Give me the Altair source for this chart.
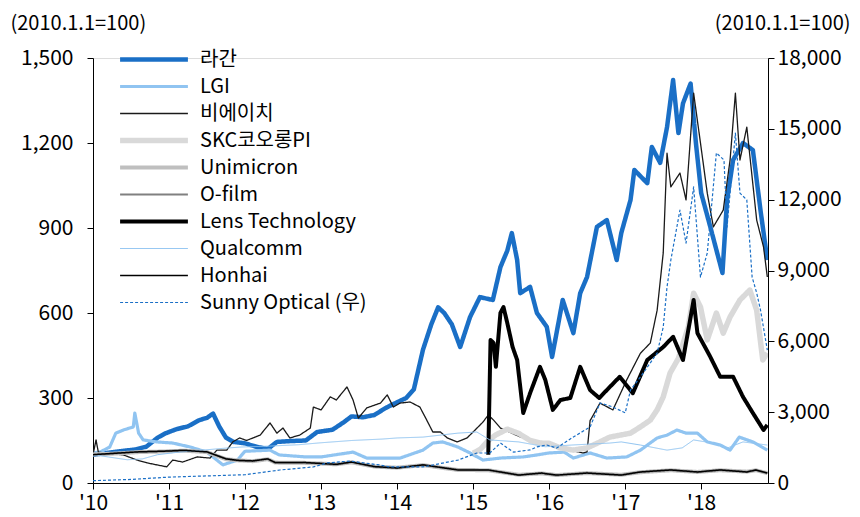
import altair as alt
import pandas as pd

SERIES = ["라간", "LGI", "비에이치", "SKC코오롱PI", "Unimicron", "O-film",
          "Lens Technology", "Qualcomm", "Honhai", "Sunny Optical (우)"]
COLORS = ["#1a6fc6", "#90c4f1", "#1a1a1a", "#d9d9d9", "#bfbfbf", "#808080",
          "#000000", "#90c4f1", "#000000", "#1a6fc6"]
WIDTHS = [4.5, 3.2, 1.3, 5.5, 4, 2, 4, 1, 1.5, 1.2]
DASHES = [[1, 0]] * 9 + [[3, 2]]

# ---- values (decimal year, index value) ----
LARGAN_T = [2010.0, 2010.15, 2010.35, 2010.55, 2010.7, 2010.85, 2010.95, 2011.1, 2011.25, 2011.4,
            2011.5, 2011.58, 2011.66, 2011.75, 2011.85, 2012.0, 2012.15, 2012.3, 2012.42, 2012.6,
            2012.8, 2012.95, 2013.15, 2013.3, 2013.4, 2013.55, 2013.7, 2013.85, 2014.0, 2014.12,
            2014.22, 2014.34, 2014.45, 2014.54, 2014.62, 2014.72, 2014.83, 2014.96, 2015.09, 2015.26,
            2015.36, 2015.45, 2015.51, 2015.58, 2015.62, 2015.75, 2015.84, 2015.97, 2016.04, 2016.18,
            2016.32, 2016.41, 2016.5, 2016.63, 2016.76, 2016.89, 2016.95, 2017.07, 2017.12, 2017.29,
            2017.35, 2017.46, 2017.55, 2017.63, 2017.7, 2017.76, 2017.86, 2017.93, 2018.0, 2018.12,
            2018.28, 2018.34, 2018.42, 2018.55, 2018.68, 2018.78, 2018.87]
LARGAN_V = [100, 105, 112, 118, 128, 160, 175, 190, 200, 222,
            230, 245, 200, 160, 145, 140, 128, 120, 145, 148,
            150, 180, 188, 215, 235, 232, 240, 265, 285, 300,
            330, 470, 560, 620, 600, 560, 480, 586, 656, 646,
            762, 820, 882, 787, 670, 692, 600, 551, 445, 646,
            529, 670, 727, 904, 928, 787, 882, 999, 1105, 1058,
            1186, 1130, 1256, 1422, 1235, 1340, 1410, 1200, 1023, 904,
            741, 999, 1140, 1200, 1175, 963, 787]

LGI_T = [2010.0, 2010.1, 2010.22, 2010.3, 2010.4, 2010.53, 2010.55, 2010.6, 2010.66, 2010.84,
         2011.05, 2011.28, 2011.5, 2011.63, 2011.71, 2011.9, 2012.0, 2012.33, 2012.45, 2012.8,
         2013.0, 2013.42, 2013.6, 2013.8, 2014.04, 2014.34, 2014.47, 2014.6, 2014.8, 2014.96,
         2015.13, 2015.36, 2015.66, 2015.84, 2016.0, 2016.2, 2016.32, 2016.54, 2016.76, 2017.02,
         2017.2, 2017.42, 2017.55, 2017.68, 2017.8, 2017.95, 2018.08, 2018.25, 2018.38, 2018.5,
         2018.68, 2018.87]
LGI_V = [106, 110, 127, 176, 187, 198, 247, 176, 152, 145,
         141, 127, 109, 81, 64, 81, 112, 116, 99, 92,
         92, 109, 88, 88, 88, 116, 141, 145, 127, 106,
         81, 88, 92, 99, 106, 109, 88, 106, 88, 92,
         116, 159, 169, 187, 176, 176, 145, 134, 116, 162,
         145, 116]

BH_T = [2010.0, 2010.04, 2010.07, 2010.2, 2010.4, 2010.58, 2010.71, 2010.84, 2010.97, 2011.05,
        2011.18, 2011.37, 2011.54, 2011.63, 2011.76, 2011.84, 2011.93, 2012.02, 2012.2, 2012.33,
        2012.42, 2012.5, 2012.59, 2012.72, 2012.86, 2012.9, 2013.0, 2013.12, 2013.2, 2013.34,
        2013.42, 2013.49, 2013.6, 2013.78, 2013.87, 2013.95, 2014.04, 2014.17, 2014.3, 2014.39,
        2014.47, 2014.57, 2014.66, 2014.79, 2014.92, 2015.0, 2015.13, 2015.2, 2015.27, 2015.36,
        2015.6, 2015.9, 2016.2, 2016.45, 2016.5, 2016.54, 2016.67, 2016.84, 2017.02, 2017.2,
        2017.33, 2017.42, 2017.5, 2017.55, 2017.6, 2017.72, 2017.8, 2017.9, 2017.99, 2018.08,
        2018.16, 2018.29, 2018.38, 2018.45, 2018.51, 2018.6, 2018.73, 2018.82, 2018.87]
BH_V = [100, 152, 109, 105, 99, 81, 71, 64, 57, 81,
        74, 92, 88, 116, 116, 145, 159, 150, 169, 212,
        176, 194, 159, 169, 194, 268, 258, 304, 293, 339,
        293, 229, 265, 282, 311, 268, 282, 286, 268, 222,
        180, 180, 159, 145, 159, 180, 215, 240, 222, 194,
        165, 140, 120, 106, 110, 220, 282, 258, 364, 458,
        494, 610, 812, 1164, 1045, 1094, 999, 1376, 1200, 1023,
        904, 963, 1140, 1376, 1140, 1256, 928, 833, 727]

SKC_T = [2015.0, 2015.1, 2015.2, 2015.3, 2015.45, 2015.6, 2015.75, 2015.88, 2016.0, 2016.15,
         2016.32, 2016.5, 2016.67, 2016.8, 2017.07, 2017.2, 2017.33, 2017.42, 2017.5, 2017.59,
         2017.7, 2017.83, 2017.9, 2017.99, 2018.08, 2018.2, 2018.29, 2018.38, 2018.51, 2018.64,
         2018.73, 2018.81, 2018.87]
SKC_V = [105, 120, 150, 170, 190, 175, 150, 141, 140, 124,
         116, 124, 145, 162, 176, 198, 222, 258, 304, 388,
         440, 551, 670, 621, 505, 600, 529, 586, 646, 681,
         610, 434, 459]

UNIMICRON_T = [2010.0, 2010.3, 2010.6, 2010.9, 2011.2, 2011.5, 2011.6, 2011.75, 2011.9, 2012.1,
               2012.3, 2012.4, 2012.8, 2013.2, 2013.4, 2013.7, 2014.0, 2014.34, 2014.8, 2015.2,
               2015.6, 2015.9, 2016.1, 2016.5, 2016.95, 2017.2, 2017.6, 2017.95, 2018.25, 2018.6,
               2018.72, 2018.87]
UNIMICRON_V = [101, 104, 109, 111, 114, 109, 99, 84, 80, 77,
               84, 72, 71, 66, 73, 58, 54, 63, 46, 45,
               29, 34, 28, 35, 29, 38, 45, 39, 45, 40,
               45, 35]

OFILM_T = UNIMICRON_T
OFILM_V = [99, 105, 110, 112, 116, 110, 100, 86, 79, 78,
           85, 71, 72, 65, 74, 57, 53, 64, 47, 46,
           28, 35, 27, 36, 28, 39, 46, 38, 46, 39,
           46, 34]

LENS_T = [2015.2, 2015.23, 2015.27, 2015.3, 2015.36, 2015.4, 2015.45, 2015.52, 2015.58, 2015.66,
          2015.75, 2015.88, 2015.95, 2016.05, 2016.15, 2016.28, 2016.41, 2016.54, 2016.66, 2016.76,
          2016.93, 2017.1, 2017.29, 2017.5, 2017.63, 2017.76, 2017.9, 2017.95, 2018.05, 2018.12,
          2018.25, 2018.42, 2018.55, 2018.68, 2018.82, 2018.87]
LENS_V = [100, 505, 494, 410, 600, 621, 565, 480, 434, 247,
          317, 410, 364, 258, 293, 300, 410, 328, 300, 328,
          375, 317, 434, 480, 516, 434, 646, 529, 480, 445,
          375, 375, 304, 247, 187, 205]

QCOM_T = [2010.0, 2010.2, 2010.45, 2010.65, 2010.85, 2011.1, 2011.4, 2011.7, 2011.95, 2012.3,
          2012.7, 2013.0, 2013.4, 2013.8, 2014.0, 2014.34, 2014.8, 2015.05, 2015.22, 2015.6,
          2015.95, 2016.3, 2016.8, 2016.95, 2017.2, 2017.55, 2017.75, 2017.9, 2018.15, 2018.35,
          2018.55, 2018.87]
QCOM_V = [100, 92, 82, 85, 100, 108, 115, 122, 127, 130,
          135, 142, 150, 155, 159, 162, 176, 180, 152, 145,
          128, 134, 141, 145, 134, 116, 124, 152, 141, 124,
          145, 134]

HONHAI_T = UNIMICRON_T
HONHAI_V = [100, 105, 110, 112, 115, 110, 100, 85, 80, 78,
            85, 72, 72, 66, 74, 58, 53, 64, 46, 46,
            28, 35, 28, 35, 28, 39, 46, 39, 46, 39,
            46, 35]

SUNNY_T = [2010.0, 2010.5, 2011.0, 2011.5, 2012.0, 2012.46, 2012.9, 2013.08, 2013.38, 2013.78,
           2013.9, 2014.34, 2014.8, 2015.05, 2015.22, 2015.36, 2015.53, 2015.75, 2015.84, 2015.97,
           2016.1, 2016.32, 2016.54, 2016.67, 2016.84, 2017.0, 2017.07, 2017.2, 2017.42, 2017.5,
           2017.55, 2017.6, 2017.72, 2017.8, 2017.9, 2017.99, 2018.08, 2018.2, 2018.3, 2018.34,
           2018.45, 2018.51, 2018.6, 2018.67, 2018.73, 2018.78, 2018.87]
SUNNY_V = [100, 150, 250, 300, 350, 550, 680, 850, 930, 760,
           680, 680, 970, 1270, 1270, 1690, 1310, 1400, 1530, 1610,
           1480, 1950, 2370, 3390, 3220, 2970, 3940, 4490, 5500, 6600,
           8300, 9440, 11560, 10160, 12540, 8720, 9740, 13980, 13680, 10840,
           14820, 12280, 11990, 8720, 8050, 7330, 5630]

LEFT_DATA = [(LARGAN_T, LARGAN_V), (LGI_T, LGI_V), (BH_T, BH_V), (SKC_T, SKC_V),
             (UNIMICRON_T, UNIMICRON_V), (OFILM_T, OFILM_V), (LENS_T, LENS_V),
             (QCOM_T, QCOM_V), (HONHAI_T, HONHAI_V)]

LEFT_TICKS = [0, 300, 600, 900, 1200, 1500]
RIGHT_TICKS = [0, 3000, 6000, 9000, 12000, 15000, 18000]
YEARS = list(range(2010, 2019))

FONT = "Noto Sans CJK KR"
FS = 21


def to_date(t):
    y = int(t)
    return (pd.Timestamp(year=y, month=1, day=1) + pd.Timedelta(days=(t - y) * 365.25)).strftime("%Y-%m-%dT%H:%M:%S")


rows = []
for name, (ts, vs) in zip(SERIES[:9], LEFT_DATA):
    for t, v in zip(ts, vs):
        rows.append({"date": to_date(t), "value": v, "series": name})
left_df = pd.DataFrame(rows)
right_df = pd.DataFrame({"date": [to_date(t) for t in SUNNY_T], "value": SUNNY_V,
                         "series": SERIES[9]})

x_enc = alt.X("date:T", title=None,
              scale=alt.Scale(domain=[alt.DateTime(year=2010, month=1, date=1),
                                      alt.DateTime(year=2018, month=11, date=18)]),
              axis=alt.Axis(values=[alt.DateTime(year=y, month=1, date=1) for y in YEARS],
                            format="'%y", labelFont=FONT, labelFontSize=FS, labelColor="#000",
                            domainColor="#000", tickColor="#000", tickSize=6, labelPadding=3,
                            grid=False, labelFlush=False, labelOverlap=False))

legend = alt.Legend(title=None, orient="none", legendX=24, legendY=-12,
                    symbolType="stroke", symbolSize=4600, labelFont=FONT, labelFontSize=20,
                    labelColor="#000", clipHeight=27, rowPadding=0, labelOffset=9,
                    symbolLimit=0, labelLimit=400)

color_enc = alt.Color("series:N", scale=alt.Scale(domain=SERIES, range=COLORS), legend=legend)
width_enc = alt.StrokeWidth("series:N", scale=alt.Scale(type="ordinal", domain=SERIES, range=WIDTHS),
                            legend=legend)
dash_enc = alt.StrokeDash("series:N", scale=alt.Scale(domain=SERIES, range=DASHES), legend=legend)

TITLE = "(2010.1.1=100)"
y_left = alt.Y("value:Q", scale=alt.Scale(domain=[0, 1500]),
               axis=alt.Axis(values=LEFT_TICKS, format=",d", orient="left", title=TITLE,
                             titleAngle=0, titleX=-83, titleY=-35, titleAlign="left",
                             titleBaseline="middle", titleFont=FONT, titleFontSize=20,
                             titleFontWeight="normal", titleColor="#000",
                             labelFont=FONT, labelFontSize=FS, labelColor="#000",
                             domainColor="#000", tickColor="#000", tickSize=6, labelPadding=14,
                             grid=False))
y_right = alt.Y("value:Q", scale=alt.Scale(domain=[0, 18000]),
                axis=alt.Axis(values=RIGHT_TICKS, format=",d", orient="right", title=TITLE,
                              titleAngle=0, titleX=82, titleY=-35, titleAlign="right",
                              titleBaseline="middle", titleFont=FONT, titleFontSize=20,
                              titleFontWeight="normal", titleColor="#000",
                              labelFont=FONT, labelFontSize=FS, labelColor="#000",
                              domainColor="#000", tickColor="#000", tickSize=6, labelPadding=3,
                              grid=False))

left_layers = []
for name in SERIES[:9]:
    left_layers.append(
        alt.Chart(left_df).transform_filter(alt.datum.series == name)
        .mark_line(clip=True, strokeJoin="round")
        .encode(x=x_enc, y=y_left, color=color_enc, strokeWidth=width_enc, strokeDash=dash_enc)
    )
left = alt.layer(*left_layers)

right = (alt.Chart(right_df).mark_line(clip=True, strokeJoin="round")
         .encode(x=x_enc, y=y_right, color=color_enc, strokeWidth=width_enc, strokeDash=dash_enc))

chart = (alt.layer(left, right)
         .resolve_scale(y="independent")
         .properties(width=675, height=425, autosize=alt.AutoSizeParams(type="none"),
                     padding={"left": 85, "top": 50, "right": 84, "bottom": 34})
         .configure_view(stroke=None)
         .configure(background="white"))

chart.save("out.html", embed_options={"renderer": "svg", "actions": False})
